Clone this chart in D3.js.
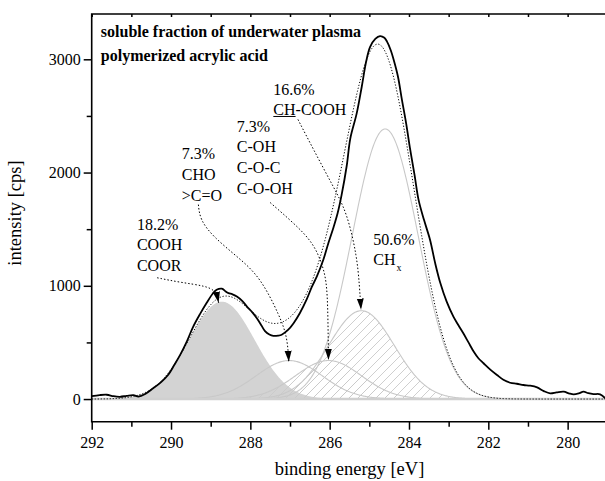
<!DOCTYPE html>
<html><head><meta charset="utf-8">
<script src="https://cdn.jsdelivr.net/npm/d3@7"></script>
<style>body{margin:0;background:#fff} svg{display:block}</style>
</head><body>
<svg id="chart" width="605" height="481"></svg>
<script>
// ---- measured spectrum (binding energy eV, intensity cps) ----
const energy = [292.00,291.80,291.62,291.45,291.29,291.12,290.95,290.82,290.65,290.45,290.25,290.07,289.92,289.77,289.60,289.44,289.27,289.10,288.95,288.85,288.72,288.62,288.55,288.45,288.34,288.20,288.09,287.95,287.84,287.72,287.63,287.52,287.42,287.30,287.21,287.05,286.91,286.75,286.58,286.45,286.32,286.16,286.03,285.90,285.80,285.70,285.57,285.48,285.32,285.19,285.08,284.98,284.85,284.73,284.62,284.56,284.46,284.39,284.28,284.18,284.07,283.97,283.86,283.76,283.62,283.47,283.34,283.21,283.05,282.88,282.75,282.63,282.50,282.37,282.25,282.12,281.95,281.78,281.62,281.45,281.28,281.11,280.95,280.77,280.60,280.44,280.28,280.10,279.95,279.85,279.72,279.60,279.48,279.35,279.18,279.05];
const intensity = [25,35,38,25,20,28,35,22,45,95,150,215,300,390,510,640,750,850,930,965,975,950,935,925,905,865,818,765,715,650,600,570,558,560,568,610,670,760,880,990,1085,1230,1380,1520,1640,1800,2060,2300,2520,2760,2980,3110,3180,3205,3190,3160,3080,3000,2850,2646,2430,2204,1980,1761,1580,1407,1200,1024,860,728,650,581,500,419,360,316,260,212,170,144,135,124,118,103,70,50,58,65,48,42,50,65,52,44,42,5];

// ---- fitted components ----
const peakNames   = ["COOH COOR","CHO >C=O","C-OH C-O-C C-O-OH","CH-COOH","CHx"];
const peakPercent = ["18.2%","7.3%","7.3%","16.6%","50.6%"];
const peakCenters = [288.72, 287.02, 286.03, 285.20, 284.60];
const peakHeights = [860, 340, 340, 780, 2385];
const peakSigmas  = [0.83, 0.83, 0.83, 0.83, 0.83];

// ---- annotation arrows (eV, intensity) ----
const arrowCOOH   = [[290.35,1071],[289.77,1030],[289.14,1000],[288.86,955],[288.80,850]];
const arrowCHO    = [[289.31,1717],[289.27,1584],[288.94,1434],[288.33,1257],[287.75,1080],[287.25,726],[287.07,549],[287.03,330]];
const arrowCOH    = [[287.50,1735],[286.92,1558],[286.41,1381],[286.16,1168],[286.06,991],[286.04,637],[286.03,345]];
const arrowCHCOOH = [[286.80,2469],[286.41,2204],[285.91,1876],[285.56,1646],[285.31,1257],[285.25,1000],[285.21,790]];

// ---- ticks ----
const xTicksMajor = [292,290,288,286,284,282,280];
const xTicksMinor = [291,289,287,285,283,281,279];
const yTicksMajor = [0,1000,2000,3000];
const yTicksMinor = [500,1500,2500];

const titleLines = ["soluble fraction of underwater plasma","polymerized acrylic acid"];
const xTitle = "binding energy [eV]";
const yTitle = "intensity [cps]";

// ================= drawing =================
const svg = d3.select("#chart");
const L = 91.7, T = 14, R = 607.3, B = 421.7;
const x = d3.scaleLinear().domain([292, 279]).range([L, R]);
const y = d3.scaleLinear().domain([-200, 3400]).range([B, T]);
const serif = "'Liberation Serif','Times New Roman',serif";

const defs = svg.append("defs");
const pat = defs.append("pattern").attr("id","hatch").attr("patternUnits","userSpaceOnUse")
  .attr("width",9).attr("height",9);
pat.append("path").attr("d","M-1,1 L1,-1 M0,9 L9,0 M8,10 L10,8")
  .attr("stroke","#c9c9c9").attr("stroke-width",0.9);
defs.append("marker").attr("id","arr").attr("markerUnits","userSpaceOnUse")
  .attr("markerWidth",12).attr("markerHeight",8).attr("refX",11).attr("refY",3.5)
  .attr("orient","auto")
  .append("path").attr("d","M0,0 L11,3.5 L0,7 Z").attr("fill","#000");
defs.append("clipPath").attr("id","clip").append("rect")
  .attr("x",L).attr("y",T).attr("width",R-L).attr("height",B-T);

const gauss = (e,i) => peakHeights[i]*Math.exp(-Math.pow(e-peakCenters[i],2)/(2*peakSigmas[i]*peakSigmas[i]));
const grid = d3.range(292, 278.99, -0.02);
const plot = svg.append("g").attr("clip-path","url(#clip)");

// COOH filled
const area = i => d3.area().x(e=>x(e)).y0(y(0)).y1(e=>y(gauss(e,i)));
const line = i => d3.line().x(e=>x(e)).y(e=>y(gauss(e,i)));
plot.append("path").datum(grid).attr("d",area(0)).attr("fill","#d3d3d3");
// hatched components
[2,3].forEach(i=>{
  plot.append("path").datum(grid).attr("d",area(i)).attr("fill","url(#hatch)");
});
// outlines
[1,2,3,4].forEach(i=>{
  plot.append("path").datum(grid).attr("d",line(i)).attr("fill","none")
    .attr("stroke","#c8c8c8").attr("stroke-width",1.1);
});
// baseline
plot.append("line").attr("x1",x(292)).attr("x2",x(279)).attr("y1",y(0)).attr("y2",y(0))
  .attr("stroke","#d0d0d0").attr("stroke-width",2.5);
// envelope
plot.append("path").datum(grid)
  .attr("d", d3.line().x(e=>x(e)).y(e=>y(d3.sum(peakCenters,(c,i)=>gauss(e,i)))))
  .attr("fill","none").attr("stroke","#000").attr("stroke-width",1).attr("stroke-dasharray","1.2,1.8");
// measured spectrum
const spec = energy.map((e,i)=>[e,intensity[i]]);
plot.append("path").datum(spec)
  .attr("d", d3.line().x(d=>x(d[0])).y(d=>y(d[1])).curve(d3.curveCatmullRom.alpha(0.5)))
  .attr("fill","none").attr("stroke","#000").attr("stroke-width",1.8).attr("stroke-linejoin","round");

// arrows
[arrowCOOH, arrowCHO, arrowCOH, arrowCHCOOH].forEach(a=>{
  svg.append("path").datum(a)
    .attr("d", d3.line().x(d=>x(d[0])).y(d=>y(d[1])).curve(d3.curveBasis))
    .attr("fill","none").attr("stroke","#000").attr("stroke-width",1)
    .attr("stroke-dasharray","1.5,2").attr("marker-end","url(#arr)");
});

// frame
const frame = svg.append("g").attr("stroke","#000").attr("stroke-width",1.6).attr("fill","none");
frame.append("path").attr("d",`M${L},${B} L${L},${T} L${R},${T} L${R},${B} Z`);

// axes
const xMajor = d3.axisBottom(x).tickValues(xTicksMajor).tickSize(8).tickPadding(7).tickFormat(d3.format("d"));
const xMinor = d3.axisBottom(x).tickValues(xTicksMinor).tickSize(5).tickFormat("");
const yMajor = d3.axisLeft(y).tickValues(yTicksMajor).tickSize(8).tickPadding(3).tickFormat(d3.format("d"));
const yMinor = d3.axisLeft(y).tickValues(yTicksMinor).tickSize(5).tickFormat("");
const xTop = d3.axisBottom(x).tickValues(xTicksMajor.concat(xTicksMinor)).tickSize(3).tickFormat("");
function style(g){
  g.select(".domain").remove();
  g.selectAll("line").attr("stroke","#000").attr("stroke-width",1.5);
  g.selectAll("text").attr("font-family",serif).attr("font-size",16).attr("fill","#000");
}
svg.append("g").attr("transform",`translate(0,${B})`).call(xMajor).call(style);
svg.append("g").attr("transform",`translate(0,${B})`).call(xMinor).call(style);
svg.append("g").attr("transform",`translate(${L},0)`).call(yMajor).call(style);
svg.append("g").attr("transform",`translate(${L},0)`).call(yMinor).call(style);
svg.append("g").attr("transform",`translate(0,${T})`).call(xTop).call(style);

// axis titles
svg.append("text").attr("x",(L+R)/2).attr("y",475).attr("text-anchor","middle")
  .attr("font-family",serif).attr("font-size",18.5).text(xTitle);
svg.append("text").attr("transform","translate(21,213) rotate(-90)").attr("text-anchor","middle")
  .attr("font-family",serif).attr("font-size",18.5).text(yTitle);

// title
svg.append("g").selectAll("text").data(titleLines).join("text")
  .attr("x",x(291.77)).attr("y",(d,i)=>y(3197)+i*24)
  .attr("font-family",serif).attr("font-weight","bold").attr("font-size",16).text(d=>d);

// annotations
function block(e, v, lines, step){
  const t = svg.append("text").attr("font-family",serif).attr("font-size",16).attr("fill","#000");
  lines.forEach((ln,i)=>{
    t.append("tspan").attr("x",x(e)).attr("y",y(v)+i*step).text(ln);
  });
  return t;
}
block(290.86, 1493, [peakPercent[0], "COOH", "COOR"], 20.5);
block(289.73, 2117, [peakPercent[1], "CHO", ">C=O"], 20.7);
block(288.34, 2361, [peakPercent[2], "C-OH", "C-O-C", "C-O-OH"], 20.8);
block(287.42, 2685, [peakPercent[3], "CH-COOH"], 20);
// underline of CH
const chW = (()=>{ const tmp = svg.append("text").attr("font-family",serif).attr("font-size",16).text("CH");
  const w = tmp.node().getComputedTextLength(); tmp.remove(); return w; })();
svg.append("line").attr("x1",x(287.42)).attr("x2",x(287.42)+chW)
  .attr("y1",y(2685)+21.5).attr("y2",y(2685)+21.5).attr("stroke","#000").attr("stroke-width",1);
const t50 = block(284.90, 1360, [peakPercent[4]], 20);
const ch = svg.append("text").attr("font-family",serif).attr("font-size",16)
  .attr("x",x(284.90)).attr("y",y(1360)+20);
ch.append("tspan").text("CH");
ch.append("tspan").attr("font-size",10).attr("dy",6).attr("dx",1).text("x");
</script>
</body></html>
